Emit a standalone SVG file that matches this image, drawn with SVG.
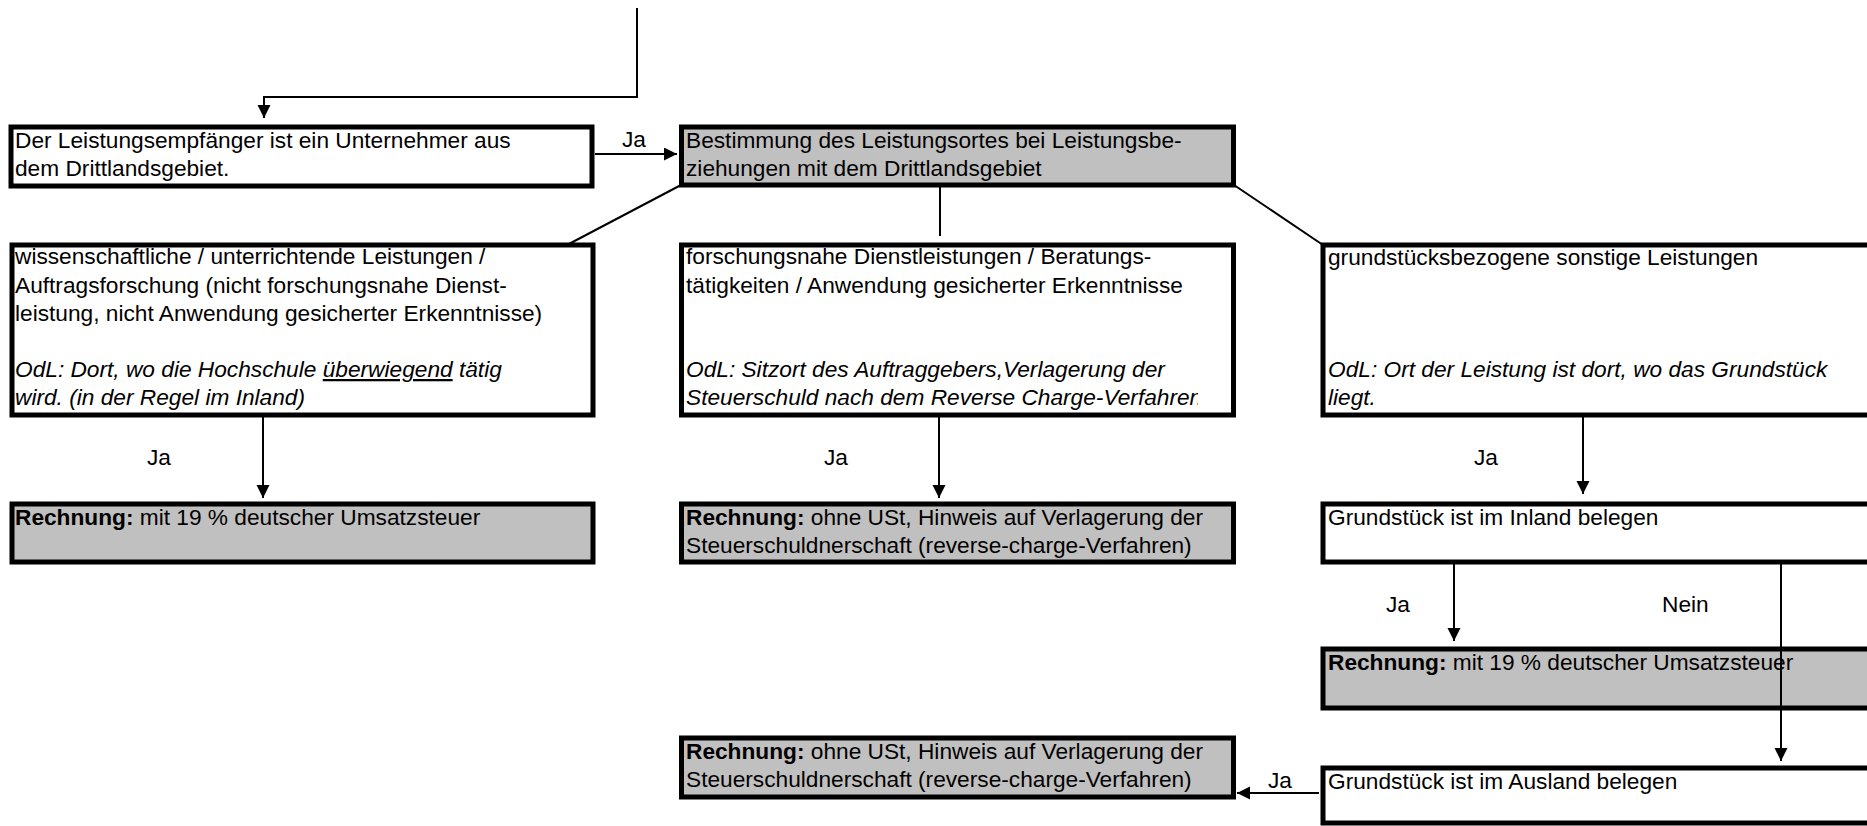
<svg xmlns="http://www.w3.org/2000/svg" width="1867" height="826" viewBox="0 0 1867 826">
<style>
.box{fill:#fff;stroke:#000;stroke-width:5}
.gray{fill:#c0c0c0;stroke:#000;stroke-width:5}
text{font-family:"Liberation Sans",Arial,sans-serif;font-size:22.7px;fill:#000}
.it{font-style:italic}
.b{font-weight:bold}
.con{stroke:#000;stroke-width:2;fill:none}
</style>
<defs>
<marker id="ah" markerWidth="14" markerHeight="14" refX="13" refY="6.5" orient="auto" markerUnits="userSpaceOnUse"><path d="M0,0 L13,6.5 L0,13 z" fill="#000"/></marker>
<clipPath id="clipD"><rect x="680" y="380" width="518" height="40"/></clipPath>
</defs>
<rect width="1867" height="826" fill="#fff"/>
<g id="nodeA">
<rect class="box" x="11" y="127" width="581" height="59"/>
<text x="15" y="148">Der Leistungsempfänger ist ein Unternehmer aus</text>
<text x="15" y="176">dem Drittlandsgebiet.</text>
</g>
<g id="nodeB">
<rect class="gray" x="681.5" y="127" width="552" height="58"/>
<text x="686" y="148">Bestimmung des Leistungsortes bei Leistungsbe-</text>
<text x="686" y="176">ziehungen mit dem Drittlandsgebiet</text>
</g>
<g id="nodeC">
<rect class="box" x="12" y="245" width="581" height="170"/>
<text x="15" y="264">wissenschaftliche / unterrichtende Leistungen /</text>
<text x="15" y="292.5">Auftragsforschung (nicht forschungsnahe Dienst-</text>
<text x="15" y="321">leistung, nicht Anwendung gesicherter Erkenntnisse)</text>
<text x="15" y="377" class="it">OdL: Dort, wo die Hochschule <tspan text-decoration="underline">überwiegend</tspan> tätig</text>
<text x="15" y="405" class="it">wird. (in der Regel im Inland)</text>
</g>
<g id="nodeD">
<rect class="box" x="681.5" y="245" width="552" height="170"/>
<text x="686" y="264">forschungsnahe Dienstleistungen / Beratungs-</text>
<text x="686" y="292.5">tätigkeiten / Anwendung gesicherter Erkenntnisse</text>
<text x="686" y="377" class="it">OdL: Sitzort des Auftraggebers,Verlagerung der</text>
<text x="686" y="405" class="it" clip-path="url(#clipD)">Steuerschuld nach dem Reverse Charge-Verfahren</text>
</g>
<g id="nodeE">
<rect class="box" x="1323" y="245" width="560" height="170"/>
<text x="1328" y="265">grundstücksbezogene sonstige Leistungen</text>
<text x="1328" y="377" class="it">OdL: Ort der Leistung ist dort, wo das Grundstück</text>
<text x="1328" y="405" class="it">liegt.</text>
</g>
<g id="nodeC2">
<rect class="gray" x="12" y="504" width="581" height="58"/>
<text x="15" y="525"><tspan class="b">Rechnung:</tspan> mit 19 % deutscher Umsatzsteuer</text>
</g>
<g id="nodeD2">
<rect class="gray" x="681.5" y="504" width="552" height="58"/>
<text x="686" y="525"><tspan class="b">Rechnung:</tspan> ohne USt, Hinweis auf Verlagerung der</text>
<text x="686" y="553">Steuerschuldnerschaft (reverse-charge-Verfahren)</text>
</g>
<g id="nodeF">
<rect class="box" x="1323" y="504" width="560" height="58"/>
<text x="1328" y="525">Grundstück ist im Inland belegen</text>
</g>
<g id="nodeG">
<rect class="gray" x="1323" y="649" width="560" height="59"/>
<text x="1328" y="670"><tspan class="b">Rechnung:</tspan> mit 19 % deutscher Umsatzsteuer</text>
</g>
<g id="nodeH">
<rect class="box" x="1323" y="768" width="560" height="55"/>
<text x="1328" y="789">Grundstück ist im Ausland belegen</text>
</g>
<g id="nodeI">
<rect class="gray" x="681.5" y="738" width="552" height="59"/>
<text x="686" y="759"><tspan class="b">Rechnung:</tspan> ohne USt, Hinweis auf Verlagerung der</text>
<text x="686" y="787">Steuerschuldnerschaft (reverse-charge-Verfahren)</text>
</g>
<g id="connectors">
<polyline class="con" points="637,8 637,97 264,97 264,118" marker-end="url(#ah)"/>
<line class="con" x1="595" y1="154" x2="677" y2="154" marker-end="url(#ah)"/>
<line class="con" x1="681" y1="185" x2="567" y2="245"/>
<line class="con" x1="940" y1="187" x2="940" y2="236"/>
<line class="con" x1="1234" y1="185" x2="1323" y2="245"/>
<line class="con" x1="263" y1="417" x2="263" y2="498" marker-end="url(#ah)"/>
<line class="con" x1="939" y1="417" x2="939" y2="498" marker-end="url(#ah)"/>
<line class="con" x1="1583" y1="417" x2="1583" y2="494" marker-end="url(#ah)"/>
<line class="con" x1="1454" y1="562" x2="1454" y2="641" marker-end="url(#ah)"/>
<line class="con" x1="1781" y1="564" x2="1781" y2="761" marker-end="url(#ah)"/>
<line class="con" x1="1319" y1="793" x2="1237" y2="793" marker-end="url(#ah)"/>
<text x="622" y="147">Ja</text>
<text x="147" y="465">Ja</text>
<text x="824" y="465">Ja</text>
<text x="1474" y="465">Ja</text>
<text x="1386" y="612">Ja</text>
<text x="1662" y="612">Nein</text>
<text x="1268" y="788">Ja</text>
</g>
</svg>
